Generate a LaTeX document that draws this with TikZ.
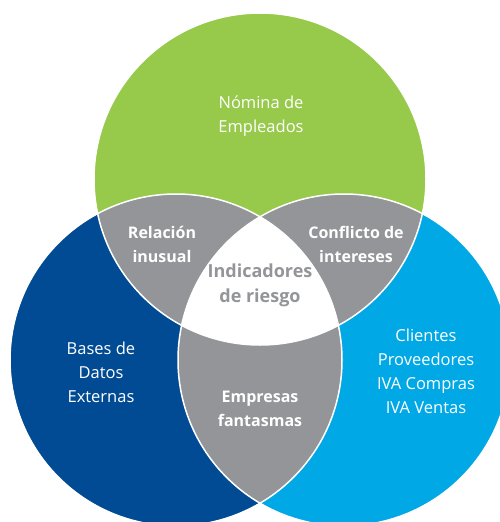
\documentclass[tikz,border=0pt]{standalone}
\usepackage{fontspec}
\setsansfont{Open Sans}
\usetikzlibrary{positioning}
\definecolor{nominagreen}{HTML}{97C94B}
\definecolor{basesblue}{HTML}{004B93}
\definecolor{clientesblue}{HTML}{00A9E6}
\definecolor{overlapgray}{HTML}{939598}

\begin{document}
\begin{tikzpicture}[x=1pt, y=-1pt,
    setlabel/.style={text=white, align=center, font=\sffamily\fontsize{16.5}{24}\selectfont},
    lenslabel/.style={text=white, align=center, font=\sffamily\bfseries\fontsize{16}{24}\selectfont},
    corelabel/.style={text=overlapgray, align=center, font=\sffamily\bfseries\fontsize{18}{25}\selectfont},
    ring/.style={draw=white, line width=1.5pt}]

    \useasboundingbox (0,0) rectangle (500,522);
    \clip (0,0) rectangle (500,522);

    \coordinate (cG) at (260,179);
    \coordinate (cB) at (176,360);
    \coordinate (cL) at (344,360);

    % the three sets
    \fill[nominagreen] (cG) circle (166pt);
    \fill[basesblue] (cB) circle (166pt);
    \fill[clientesblue] (cL) circle (166pt);

    % pairwise overlaps
    \begin{scope}
      \clip (cG) circle (166pt);
      \fill[overlapgray] (cB) circle (166pt);
      \fill[overlapgray] (cL) circle (166pt);
    \end{scope}
    \begin{scope}
      \clip (cB) circle (166pt);
      \fill[overlapgray] (cL) circle (166pt);
    \end{scope}
    % centre
    \begin{scope}
      \clip (cG) circle (166pt);
      \clip (cB) circle (166pt);
      \fill[white] (cL) circle (166pt);
    \end{scope}

    \draw[ring] (cG) circle (166pt);
    \draw[ring] (cB) circle (166pt);
    \draw[ring] (cL) circle (166pt);

    \node (nomina) [setlabel] at (261,116) {Nómina de\\Empleados};
    \node (bases) [setlabel] at (101,372) {Bases de\\Datos\\Externas};
    \node (clientes) [setlabel] at (426,371) {Clientes\\Proveedores\\IVA Compras\\IVA Ventas};
    \node (relacion) [lenslabel] at (162,244) {Relación\\inusual};
    \node (conflicto) [lenslabel] at (356,244) {Conflicto de\\intereses};
    \node (empresas) [lenslabel] at (260,409) {Empresas\\fantasmas};
    \node (indicadores) [corelabel] at (260,285) {Indicadores\\de riesgo};
\end{tikzpicture}
\end{document}
